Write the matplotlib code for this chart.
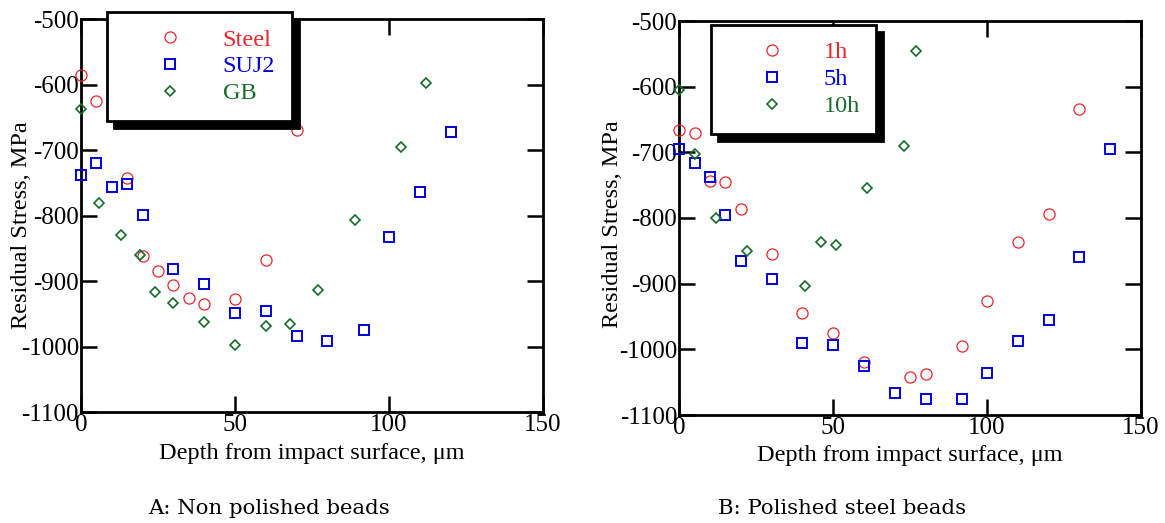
import matplotlib
matplotlib.use("Agg")
import matplotlib.pyplot as plt

plt.rcParams['font.family'] = ['Liberation Serif', 'DejaVu Serif']
plt.rcParams.update({
    'xtick.direction': 'in', 'ytick.direction': 'in',
    'xtick.major.size': 11.5, 'ytick.major.size': 11.5,
    'xtick.major.width': 1.8, 'ytick.major.width': 1.8,
    'xtick.top': True, 'ytick.right': True,
    'xtick.color': 'black', 'ytick.color': 'black',
})

# ---------------- data ----------------
# Panel A: non polished beads
steel_x = [0, 5, 15, 20, 25, 30, 35, 40, 50, 60, 70]
steel_y = [-585, -625, -743, -862, -885, -906, -926, -935, -927, -867, -669]
suj2_x = [0, 5, 10, 15, 20, 30, 40, 50, 60, 70, 80, 92, 100, 110, 120]
suj2_y = [-737, -720, -756, -751, -799, -881, -904, -948, -945, -984, -991, -974, -832, -764, -672]
gb_x = [0, 6, 13, 19, 24, 30, 40, 50, 60, 68, 77, 89, 104, 112]
gb_y = [-637, -781, -829, -860, -917, -933, -962, -997, -969, -965, -914, -806, -695, -597]

# Panel B: polished steel beads
h1_x = [0, 5, 10, 15, 20, 30, 40, 50, 60, 75, 80, 92, 100, 110, 120, 130]
h1_y = [-666, -671, -744, -745, -786, -855, -944, -975, -1020, -1042, -1038, -995, -927, -837, -794, -634]
h5_x = [0, 5, 10, 15, 20, 30, 40, 50, 60, 70, 80, 92, 100, 110, 120, 130, 140]
h5_y = [-695, -717, -737, -795, -865, -893, -991, -994, -1026, -1066, -1075, -1075, -1036, -987, -956, -859, -695]
h10_x = [0, 5, 12, 22, 41, 46, 51, 61, 73, 77]
h10_y = [-605, -702, -800, -850, -903, -836, -841, -755, -690, -546]

labels_A = ['Steel', 'SUJ2', 'GB']
labels_B = ['1h', '5h', '10h']
x_ticks = [0, 50, 100, 150]
y_ticks = [-1100, -1000, -900, -800, -700, -600, -500]
xlabel = 'Depth from impact surface, μm'
ylabel = 'Residual Stress, MPa'
captions = ['A: Non polished beads', 'B: Polished steel beads']

# ---------------- style ----------------
RED = '#e8262a'
BLUE = '#0000dd'
GREEN = '#176b2b'
styles = [
    dict(marker='o', ms=8.0, mew=0.9, mfc='none', mec=RED),
    dict(marker='s', ms=7.4, mew=1.4, mfc='none', mec=BLUE),
    dict(marker='D', ms=5.2, mew=1.2, mfc='none', mec=GREEN),
]

W, H = 1165, 523
fig = plt.figure(figsize=(W / 100, H / 100), dpi=100)
axA = fig.add_axes([81 / W, 1 - 412.3 / H, 462 / W, 393 / H])
axB = fig.add_axes([679.3 / W, 1 - 415 / H, 461.7 / W, 394 / H])

FS = 18


def setup(ax, ylab_x, ylab_y):
    ax.set_xlim(0, 150)
    ax.set_ylim(-1100, -500)
    ax.set_xticks(x_ticks)
    ax.set_yticks(y_ticks)
    ax.set_yticklabels([str(v) for v in y_ticks])
    ax.tick_params(axis='both', which='major', direction='in', length=11.5,
                   width=1.8, color='black', top=True, right=True,
                   bottom=True, left=True, labelsize=FS, pad=1.5)
    for s in ax.spines.values():
        s.set_linewidth(2.0)
    ax.set_xlabel(xlabel, fontsize=17.5, va='center')
    ax.xaxis.set_label_coords(0.5, -0.104)
    ax.set_ylabel(ylabel, fontsize=17.5, va='center')
    ax.yaxis.set_label_coords(ylab_x, ylab_y)


def plot_panel(ax, series, labels, anchor, hl, htp):
    handles = []
    for (xs, ys), st, lab in zip(series, styles, labels):
        h, = ax.plot(xs, ys, ls='none', clip_on=False, label=lab, zorder=3, **st)
        handles.append(h)
    leg = ax.legend(handles=handles, loc='upper left', bbox_to_anchor=anchor,
                    frameon=True, fancybox=False, edgecolor='black', framealpha=1,
                    shadow={'ox': 5, 'oy': -5, 'facecolor': 'black',
                            'edgecolor': 'black', 'alpha': 1},
                    fontsize=17.5, borderpad=0.68, handlelength=hl,
                    handletextpad=htp, labelspacing=0.2, borderaxespad=0,
                    labelcolor='markeredgecolor', numpoints=1)
    leg.get_frame().set_linewidth(2)
    leg.set_zorder(5)


setup(axA, -0.128, 0.477)
setup(axB, -0.1436, 0.485)
plot_panel(axA, [(steel_x, steel_y), (suj2_x, suj2_y), (gb_x, gb_y)], labels_A,
           (0.056, 1.0186), 3.85, 0.24)
plot_panel(axB, [(h1_x, h1_y), (h5_x, h5_y), (h10_x, h10_y)], labels_B,
           (0.068, 0.99), 3.66, 0.3)

fig.text(269 / W, 1 - 508 / H, captions[0], ha='center', va='center',
         fontsize=15.3, family='DejaVu Serif')
fig.text(842 / W, 1 - 508 / H, captions[1], ha='center', va='center',
         fontsize=15.3, family='DejaVu Serif')

fig.savefig('out.png', dpi=100)
